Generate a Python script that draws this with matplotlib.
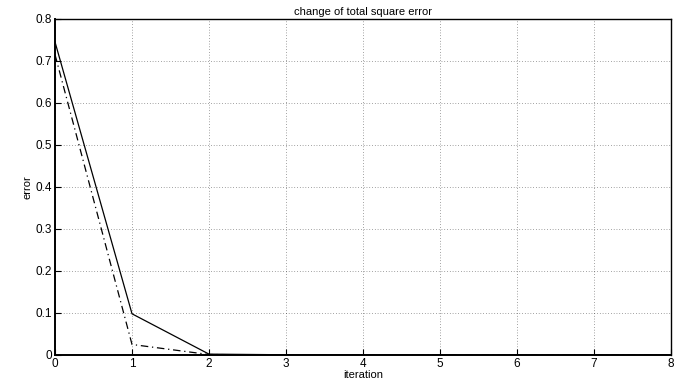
import numpy as np
import matplotlib.pyplot as plt

plt.rcParams['font.family'] = ['Liberation Sans', 'DejaVu Sans']

iteration = [0, 1, 2, 3, 4, 5, 6, 7, 8]
error_solid = [0.745, 0.098, 0.002, 0.0005, 0.0002, 0.0001, 0.0, 0.0, 0.0]
error_dashdot = [0.715, 0.025, 0.001, 0.0003, 0.0001, 0.0, 0.0, 0.0, 0.0]

fig = plt.figure(figsize=(6.81, 3.85), dpi=100)
ax = fig.add_axes([0.0808, 0.078, 0.9045, 0.8728])

ax.plot(iteration, error_solid, color="black", linewidth=0.9, linestyle="-")
ax.plot(iteration, error_dashdot, color="black", linewidth=0.9, linestyle=(0, (6, 3, 1, 3)))

ax.set_xlim(0, 8)
ax.set_ylim(0, 0.8)
ax.set_xticks(range(0, 9))
ax.set_yticks(np.arange(0, 0.81, 0.1))
ax.set_yticklabels(["0", "0.1", "0.2", "0.3", "0.4", "0.5", "0.6", "0.7", "0.8"])
ax.grid(True, linestyle=(0, (1, 3)), color="black", linewidth=0.5, alpha=0.7)
ax.tick_params(direction="in", labelsize=8.5, length=4, width=0.8, pad=2)
for s in ax.spines.values():
    s.set_linewidth(1.0)
ax.spines["left"].set_linewidth(1.4)
ax.spines["bottom"].set_linewidth(1.4)

ax.set_xlabel("iteration", fontsize=8, labelpad=0)
ax.set_ylabel("error", fontsize=8, labelpad=2)
ax.set_title("change of total square error", fontsize=8, pad=3)

fig.savefig("out.png", dpi=100)
